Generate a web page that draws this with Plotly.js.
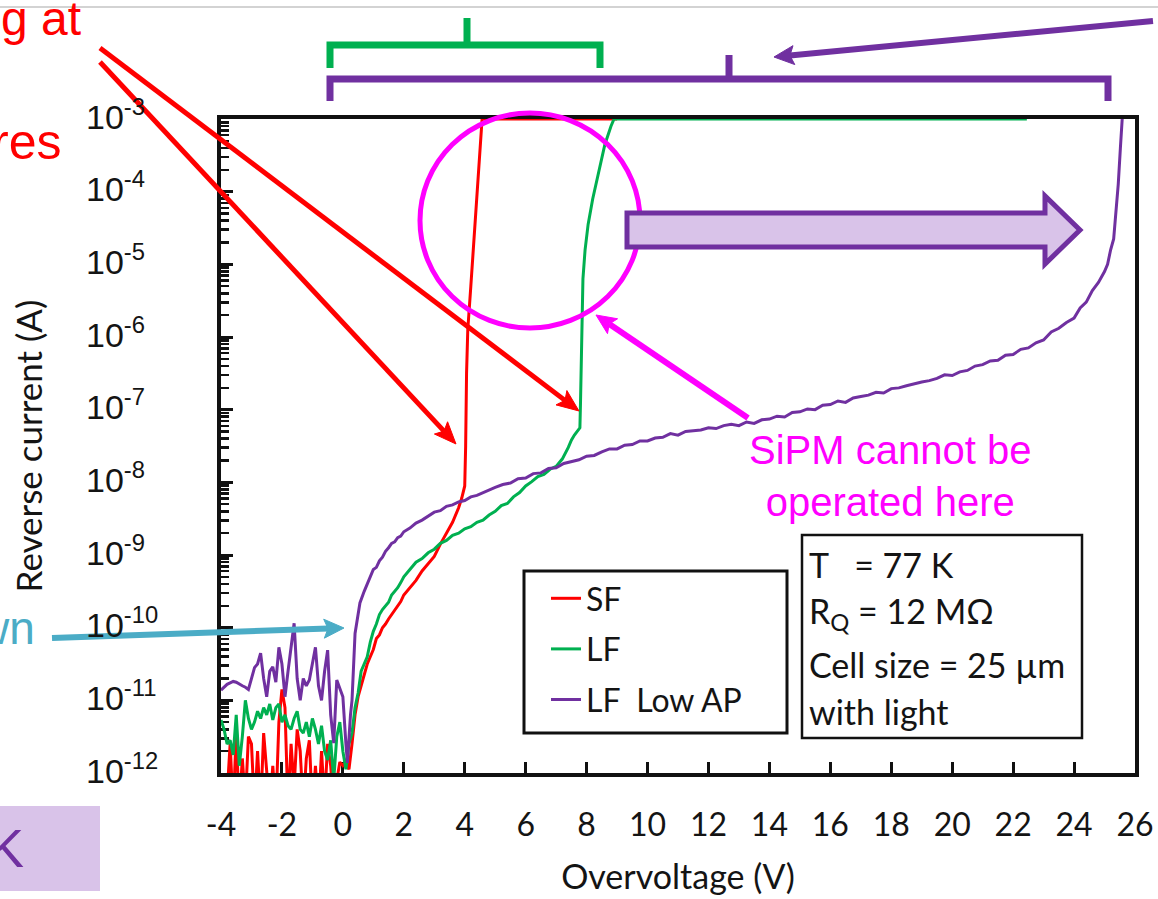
<!DOCTYPE html>
<html>
<head>
<meta charset="utf-8">
<script src="https://cdn.plot.ly/plotly-3.0.1.min.js"></script>
<style>
  html, body { margin: 0; padding: 0; background: #ffffff; }
  #chart { width: 1158px; height: 899px; }
</style>
</head>
<body>
<div id="chart"></div>
<script>
// ---------------- DATA ----------------
const xTicks = [-4, -2, 0, 2, 4, 6, 8, 10, 12, 14, 16, 18, 20, 22, 24, 26];
const yDecades = [-12, -11, -10, -9, -8, -7, -6, -5, -4, -3];

const seriesNames = ["SF", "LF", "LF\u00a0 Low AP"];

// SF : overvoltage (V) and log10 of reverse current (A)
const sfV = [-4.0,-3.9,-3.8,-3.7,-3.6,-3.5,-3.4,-3.3,-3.2,-3.1,
  -3.0,-2.9,-2.8,-2.7,-2.6,-2.5,-2.4,-2.3,-2.2,-2.1,
  -2.0,-1.9,-1.8,-1.7,-1.6,-1.5,-1.4,-1.3,-1.2,-1.1,
  -1.0,-0.9,-0.8,-0.7,-0.6,-0.5,-0.4,-0.3,-0.2,-0.1,
  0.0,0.1,0.2,0.3,0.4,
  0.5,0.6,0.7,0.8,0.9,1.0,1.1,1.2,1.3,1.4,1.5,1.6,1.7,1.8,1.9,2.0,
  2.2,2.4,2.6,2.8,3.0,3.2,3.4,3.6,3.8,
  3.9,4.0,
  4.03,4.06,4.1,4.2,4.3,4.4,4.5,4.57,
  5,6,7,8,9];
const sfLogI = [-12.5,-12.5,-12.3,-11.6,-12.5,-11.45,-12.5,-11.8,-12.4,-11.5,
  -11.6,-12.5,-11.7,-12.5,-11.45,-11.9,-12.5,-11.9,-12.5,-11.3,
  -10.85,-11.1,-12.5,-11.6,-12.2,-11.4,-11.7,-12.5,-11.8,-11.55,
  -12.5,-11.9,-12.5,-11.7,-12.4,-11.6,-11.9,-12.5,-12.1,-11.85,
  -11.9,-11.85,-11.95,-11.6,-11.2,
  -10.95,-10.8,-10.65,-10.5,-10.4,-10.3,-10.15,-10.1,-10.0,-9.95,-9.88,-9.82,-9.75,-9.7,-9.64,-9.55,
  -9.45,-9.35,-9.22,-9.12,-9.02,-8.85,-8.7,-8.55,-8.35,
  -8.22,-8.05,
  -7.5,-6.5,-5.9,-5.3,-4.7,-4.1,-3.45,-3.0,
  -3,-3,-3,-3,-3];

// LF
const lfV = [-4.0,-3.9,-3.8,-3.7,-3.6,-3.5,-3.4,-3.3,-3.2,-3.1,
  -3.0,-2.9,-2.8,-2.7,-2.6,-2.5,-2.4,-2.3,-2.2,-2.1,
  -2.0,-1.9,-1.8,-1.7,-1.6,-1.5,-1.4,-1.3,-1.2,-1.1,
  -1.0,-0.9,-0.8,-0.7,-0.6,-0.5,-0.4,-0.3,-0.2,-0.1,
  0.0,0.1,0.2,0.3,0.4,
  0.5,0.6,0.7,0.8,0.9,1.0,1.1,1.2,1.3,1.4,1.5,1.6,1.7,1.8,1.9,2.0,
  2.2,2.4,2.6,2.8,3.0,3.2,3.4,3.6,3.8,4.0,4.2,4.4,4.6,4.8,5.0,
  5.2,5.4,5.6,5.8,6.0,6.2,6.4,6.6,6.8,7.0,7.2,7.4,
  7.5,7.6,7.7,7.78,7.8,7.82,7.85,7.88,7.95,8.05,8.2,8.4,8.6,8.8,8.9,
  10,12,14,16,18,20,22,22.45];
const lfLogI = [-11.27,-11.4,-11.6,-11.55,-11.75,-11.2,-11.9,-11.5,-11.0,-11.25,
  -11.4,-11.3,-11.15,-11.25,-11.1,-11.2,-11.05,-11.27,-11.1,-11.05,
  -11.3,-11.2,-11.35,-11.4,-11.25,-11.15,-11.4,-11.45,-11.3,-11.5,
  -11.25,-11.4,-11.6,-11.35,-11.7,-11.82,-11.55,-12.1,-11.5,-11.3,
  -11.7,-11.95,-11.6,-11.45,-11.1,
  -10.9,-10.6,-10.5,-10.4,-10.2,-10.05,-9.95,-9.82,-9.75,-9.7,-9.65,-9.55,-9.5,-9.45,-9.38,-9.3,
  -9.2,-9.1,-9.05,-8.97,-8.92,-8.84,-8.8,-8.73,-8.7,-8.64,-8.61,-8.55,-8.52,-8.45,-8.4,
  -8.32,-8.29,-8.2,-8.14,-8.05,-7.99,-7.92,-7.89,-7.82,-7.78,-7.68,-7.52,
  -7.42,-7.35,-7.3,-7.25,-6.9,-6.3,-5.7,-5.2,-4.8,-4.45,-4.1,-3.7,-3.35,-3.1,-3.0,
  -3,-3,-3,-3,-3,-3,-3,-3];

// LF Low AP
const apV = [-4.0,-3.9,-3.8,-3.7,-3.6,-3.5,-3.4,-3.3,-3.2,-3.1,
  -3.0,-2.9,-2.8,-2.7,-2.6,-2.5,-2.4,-2.3,-2.2,-2.1,
  -2.0,-1.9,-1.8,-1.7,-1.6,-1.5,-1.4,-1.3,-1.2,-1.1,
  -1.0,-0.9,-0.8,-0.7,-0.6,-0.5,-0.4,-0.3,-0.2,-0.1,
  0.0,0.1,0.15,0.25,0.3,0.4,
  0.5,0.56,0.7,0.8,0.9,1.0,1.1,1.2,1.3,1.4,1.5,1.6,1.7,1.8,1.9,2.0,
  2.2,2.4,2.6,2.8,3.0,3.2,3.4,3.6,3.8,4.0,4.2,4.4,4.6,4.8,5.0,
  5.25,5.5,5.75,6.0,6.25,6.5,6.75,7.0,7.25,7.5,7.75,8.0,8.25,8.5,8.75,9.0,9.25,9.5,9.75,10.0,
  10.25,10.5,10.75,11.0,11.25,11.5,11.75,12.0,12.25,12.5,12.75,13.0,13.25,13.5,13.75,14.0,
  14.25,14.5,14.75,15.0,15.25,15.5,15.75,16.0,16.25,16.5,16.75,17.0,17.25,17.5,17.75,18.0,
  18.25,18.5,18.75,19.0,19.25,19.5,19.75,20.0,20.25,20.5,20.75,21.0,21.25,21.5,21.75,22.0,
  22.25,22.5,22.75,23.0,23.25,23.5,23.75,
  24.0,24.2,24.4,24.6,24.8,25.0,25.1,25.2,25.3,25.35,25.45,25.52,25.58];
const apLogI = [-10.86,-10.82,-10.78,-10.76,-10.74,-10.75,-10.78,-10.8,-10.82,-10.85,
  -10.7,-10.55,-10.5,-10.35,-10.7,-10.95,-10.6,-10.54,-10.75,-10.27,
  -10.5,-10.95,-10.6,-10.3,-9.94,-10.7,-11.0,-10.7,-10.8,-10.72,
  -10.5,-10.27,-10.8,-11.0,-10.6,-10.31,-11.2,-11.59,-10.72,-10.85,
  -10.95,-11.6,-11.86,-11.2,-11.0,-10.08,
  -9.8,-9.66,-9.5,-9.4,-9.3,-9.2,-9.17,-9.08,-9.03,-8.95,-8.9,-8.84,-8.82,-8.76,-8.74,-8.68,
  -8.63,-8.56,-8.52,-8.46,-8.41,-8.39,-8.33,-8.31,-8.27,-8.25,-8.2,-8.18,-8.14,-8.1,-8.07,
  -8.03,-8.01,-7.95,-7.94,-7.88,-7.87,-7.81,-7.8,-7.74,-7.72,-7.69,-7.64,-7.63,-7.58,-7.54,-7.54,-7.49,-7.48,-7.43,-7.43,
  -7.39,-7.38,-7.33,-7.35,-7.3,-7.29,-7.28,-7.25,-7.26,-7.22,-7.2,-7.22,-7.17,-7.19,-7.14,-7.13,
  -7.09,-7.1,-7.04,-7.03,-6.99,-7.0,-6.94,-6.93,-6.88,-6.9,-6.84,-6.82,-6.8,-6.76,-6.77,-6.71,
  -6.7,-6.67,-6.64,-6.62,-6.6,-6.57,-6.52,-6.53,-6.48,-6.46,-6.4,-6.38,-6.33,-6.32,-6.25,-6.24,
  -6.17,-6.15,-6.08,-6.04,-5.93,-5.88,-5.8,
  -5.74,-5.6,-5.52,-5.36,-5.25,-5.1,-5.0,-4.8,-4.65,-4.4,-3.9,-3.4,-3.0];

// ---------------- STYLE / LAYOUT ----------------
const RED = "#FF0000", GREEN = "#00B050", PURPLE = "#7030A0", MAGENTA = "#FF00FF", TEAL = "#4BACC6", LAVENDER = "#D9C3E9";
const TXT = "#141414";
const SANS = "Lato, 'Open Sans', sans-serif";
const ARIAL = "'Liberation Sans', Arial, sans-serif";

// plot area in pixels: left 221, top 119, right 1135, bottom 773
const PL = 221, PT = 119, PR = 1135, PB = 773;
const P = px => (px - PL) / (PR - PL);
const Q = py => (PB - py) / (PB - PT);

const toCurrent = arr => arr.map(v => Math.pow(10, v));

const colors = [RED, GREEN, PURPLE];
const xs = [sfV, lfV, apV];
const ys = [sfLogI, lfLogI, apLogI];
const traces = seriesNames.map((n, i) => ({
  type: "scatter", mode: "lines", name: n, legendgroup: "g" + i,
  x: xs[i], y: toCurrent(ys[i]),
  line: { color: colors[i], width: 3 },
  hoverinfo: "skip"
}));

function pathP(pts) { // pts: [px,py] pixel pairs, "M" starts a new sub-path
  let s = "";
  pts.forEach((p, i) => {
    if (p === "M") return;
    const cmd = (i === 0 || pts[i - 1] === "M") ? "M" : "L";
    s += cmd + P(p[0]).toFixed(5) + "," + Q(p[1]).toFixed(5) + " ";
  });
  return s;
}
// arrow as two shapes: shaft + triangular head (pixel geometry)
function arrowShapes(tx, ty, hx, hy, color, width, headLen, headW) {
  const dx = hx - tx, dy = hy - ty, L = Math.hypot(dx, dy);
  const ux = dx / L, uy = dy / L, nx = -uy, ny = ux;
  const bx = hx - ux * headLen, by = hy - uy * headLen;
  const sx = hx - ux * headLen * 0.8, sy = hy - uy * headLen * 0.8;
  return [
    { type: "path", xref: "paper", yref: "paper", layer: "above",
      path: pathP([[tx, ty], [sx, sy]]), line: { color: color, width: width } },
    { type: "path", xref: "paper", yref: "paper", layer: "above",
      path: pathP([[hx, hy], [bx + nx * headW / 2, by + ny * headW / 2], [sx, sy], [bx - nx * headW / 2, by - ny * headW / 2]]) + "Z",
      fillcolor: color, line: { color: color, width: 1 } }
  ];
}
function label(text, px, py, size, color, family, xanchor, extra) {
  return Object.assign({ xref: "paper", yref: "paper", x: P(px), y: Q(py), text: text,
    showarrow: false, xanchor: xanchor || "left", yanchor: "middle",
    font: { family: family || SANS, size: size, color: color || TXT } }, extra || {});
}

const annotations = [];
// y tick labels (powers of ten)
yDecades.forEach(e => annotations.push({
  xref: "paper", yref: "y", x: P(84), y: e, xanchor: "left", yanchor: "middle",
  text: "10<sup>" + e + "</sup>", showarrow: false, yshift: 5,
  font: { family: ARIAL, size: 34, color: TXT }
}));
// info box text
annotations.push(label("T\u00a0\u00a0 = 77 K", 807, 564, 34));
annotations.push(label("R<sub>Q</sub> = 12 M\u03A9", 807, 613, 34));
annotations.push(label("Cell size = 25 \u00b5m", 807, 664, 34));
annotations.push(label("with light", 807, 711, 34));
// slide overlay texts
annotations.push(label("g\u00a0at", -1, 18, 48, RED, ARIAL, "left"));
annotations.push(label("res", 63, 142, 50, RED, ARIAL, "right"));
annotations.push(label("wn", 37, 628, 46, TEAL, ARIAL, "right"));
annotations.push(label("K", 26, 848, 54, PURPLE, ARIAL, "right"));
annotations.push(label("SiPM cannot be<br>operated here", 890, 476, 40, MAGENTA, ARIAL, "center", { align: "center" }));

let shapes = [
  { type: "line", xref: "paper", yref: "paper", x0: P(0), x1: P(1158), y0: Q(7), y1: Q(7),
    line: { color: "#c4c4c4", width: 1.5 }, layer: "below" },
  { type: "rect", xref: "paper", yref: "paper", x0: P(0), x1: P(100), y0: Q(891), y1: Q(806),
    fillcolor: LAVENDER, line: { width: 0 } },
  // legend frame
  { type: "rect", xref: "paper", yref: "paper", x0: P(524), x1: P(787), y0: Q(733), y1: Q(571),
    fillcolor: "#ffffff", line: { color: "#111", width: 3 }, layer: "above" },
  // info frame
  { type: "rect", xref: "paper", yref: "paper", x0: P(802), x1: P(1082), y0: Q(738), y1: Q(535),
    fillcolor: "#ffffff", line: { color: "#111", width: 2.5 }, layer: "above" },
  // magenta circle
  { type: "circle", xref: "paper", yref: "paper", x0: P(420), x1: P(640), y0: Q(328), y1: Q(113),
    line: { color: MAGENTA, width: 5 }, layer: "above" },
  // block arrow
  { type: "path", xref: "paper", yref: "paper", layer: "above",
    path: pathP([[627, 213], [1045, 213], [1045, 196], [1080, 230], [1045, 264], [1045, 247], [627, 247]]) + "Z",
    fillcolor: LAVENDER, line: { color: PURPLE, width: 5 } },
  // green bracket
  { type: "path", xref: "paper", yref: "paper", layer: "above",
    path: pathP([[330, 68], [330, 45], [600, 45], [600, 68], "M", [467, 45], [467, 18]]),
    line: { color: GREEN, width: 7 } },
  // purple bracket
  { type: "path", xref: "paper", yref: "paper", layer: "above",
    path: pathP([[330, 101], [330, 79], [1108, 79], [1108, 101], "M", [729, 79], [729, 55]]),
    line: { color: PURPLE, width: 7 } }
];
shapes = shapes
  .concat(arrowShapes(100, 62, 456, 444, RED, 5, 22, 18))
  .concat(arrowShapes(100, 48, 579, 411, RED, 5, 22, 18))
  .concat(arrowShapes(748, 418, 596, 315, MAGENTA, 6, 20, 18))
  .concat(arrowShapes(52, 638, 344, 628, TEAL, 6, 20, 19))
  .concat(arrowShapes(1153, 21, 774, 57, PURPLE, 6, 20, 19));

const layout = {
  width: 1158, height: 899,
  margin: { l: PL, r: 1158 - PR, t: PT, b: 899 - PB, pad: 0 },
  paper_bgcolor: "#ffffff", plot_bgcolor: "#ffffff",
  showlegend: true,
  legend: { x: P(546), y: Q(571), xanchor: "left", yanchor: "top",
    bgcolor: "rgba(0,0,0,0)", borderwidth: 0, tracegroupgap: 6,
    font: { family: SANS, size: 32, color: TXT } },
  xaxis: {
    range: [-4, 26], tickmode: "array", tickvals: xTicks, ticktext: xTicks.map(String),
    ticks: "inside", ticklen: 11, tickwidth: 3, tickcolor: "#111",
    showline: true, linewidth: 4, linecolor: "#111", mirror: true,
    showgrid: false, zeroline: false, layer: "below traces",
    tickfont: { family: SANS, size: 32, color: TXT }, ticklabelstandoff: 21,
    title: { text: "Overvoltage (V)", font: { family: SANS, size: 34, color: TXT }, standoff: 24 },
    automargin: false
  },
  yaxis: {
    type: "log", range: [-12, -3], dtick: 1,
    showticklabels: false,
    ticks: "inside", ticklen: 12, tickwidth: 3, tickcolor: "#111",
    minor: { ticks: "inside", ticklen: 8, tickwidth: 2.5, tickcolor: "#111", dtick: "D1", showgrid: false },
    showline: true, linewidth: 4, linecolor: "#111", mirror: true,
    showgrid: false, zeroline: false, layer: "below traces",
    title: { text: "Reverse current (A)", font: { family: SANS, size: 35, color: TXT }, standoff: 165 },
    automargin: false
  },
  annotations: annotations,
  shapes: shapes
};

Plotly.newPlot("chart", traces, layout, { staticPlot: true, displayModeBar: false });
</script>
</body>
</html>
